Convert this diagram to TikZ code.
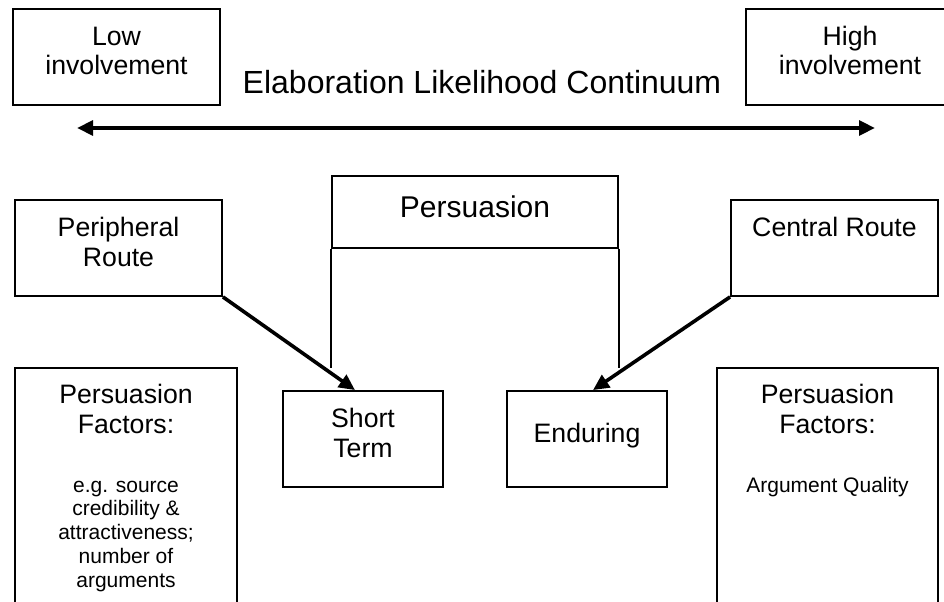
\documentclass[tikz,border=0pt]{standalone}
\usepackage{fontspec}
\setmainfont{Liberation Sans}
\usetikzlibrary{arrows.meta,fit}
\begin{document}
\begin{tikzpicture}[x=0.75pt,y=-0.75pt,
  box/.style={draw, line width=1.4pt, inner sep=0pt},
  txt/.style={anchor=base, align=center, font=\fontsize{20pt}{22pt}\selectfont},
  small/.style={anchor=base, align=center, font=\fontsize{15.75pt}{17.8pt}\selectfont},
  arr/.style={line width=2.7pt, -{Triangle[length=12pt,width=11pt]}},
  dblarr/.style={line width=2.8pt, {Triangle[length=12pt,width=11pt]}-{Triangle[length=12pt,width=11pt]}}]
\useasboundingbox (0,0) rectangle (944,602);
\fill[white] (0,0) rectangle (944,602);

% boxes
\node[box, fit={(13,9) (220,105)}] (low) {};
\node[box, fit={(746,9) (954,105)}] (high) {};
\node[box, fit={(15,200) (222,296)}] (peri) {};
\node[box, fit={(731,200) (938,296)}] (cent) {};
\node[box, fit={(332,176) (618,248)}] (pers) {};
\node[box, fit={(283,391) (443,487)}] (short) {};
\node[box, fit={(507,391) (667,487)}] (endu) {};
\node[box, fit={(15,368) (237,625)}] (lfac) {};
\node[box, fit={(717,368) (938,625)}] (rfac) {};

% texts (anchor=base of a multi-line node is the baseline of its last line)
\node[anchor=base, font=\fontsize{24pt}{28pt}\selectfont] (title) at (482,94) {Elaboration Likelihood Continuum};
\node[txt] (lowT) at (116.5,75) {Low\\involvement};
\node[txt] (highT) at (850,75) {High\\involvement};
\node[txt] (periT) at (118.5,266) {Peripheral\\Route};
\node[txt] (centT) at (834.5,236) {Central Route};
\node[anchor=base, font=\fontsize{22.5pt}{26pt}\selectfont] (persT) at (475,218) {Persuasion};
\node[txt] (shortT) at (363,457) {Short\\Term};
\node[txt] (enduT) at (587,442) {Enduring};
\node[txt] (lfacT) at (126,433) {Persuasion\\Factors:};
\node[small] (lfacS) at (126,587) {e.g. source\\credibility \&\\attractiveness;\\number of\\arguments};
\node[txt] (rfacT) at (827.5,433) {Persuasion\\Factors:};
\node[small] (rfacS) at (827.5,492) {Argument Quality};

% persuasion legs
\coordinate (legL) at ([yshift=-89.25pt]pers.south west);
\coordinate (legR) at ([yshift=-89.25pt]pers.south east);
\draw[line width=1.4pt] (pers.south west) -- (legL);
\draw[line width=1.4pt] (pers.south east) -- (legR);

% continuum arrow
\coordinate (contL) at (77,128);
\coordinate (contR) at (875,128);
\draw[dblarr] (contL) -- (contR);

% route arrows
\draw[arr] (peri.south east) -- ([xshift=-6pt]short.north);
\draw[arr] (cent.south west) -- ([xshift=4.5pt]endu.north);
\end{tikzpicture}
\end{document}
